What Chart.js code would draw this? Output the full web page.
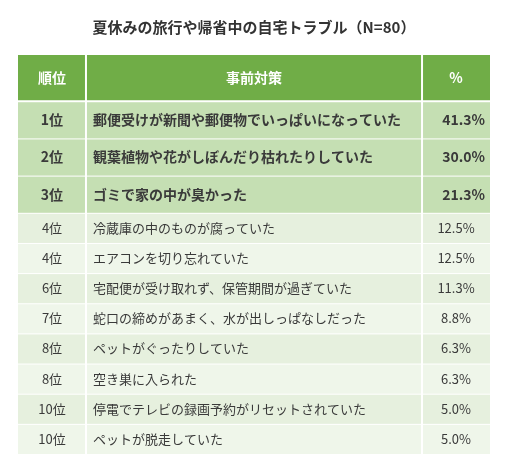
<!DOCTYPE html>
<html><head><meta charset="utf-8">
<script src="https://cdn.jsdelivr.net/npm/chart.js@4/dist/chart.umd.min.js"></script>
<style>html,body{margin:0;background:#fff}#w{width:508px;height:468px}</style></head>
<body><div id="w"><canvas id="c"></canvas></div>
<script>
const titleText = "夏休みの旅行や帰省中の自宅トラブル（N=80）";
const headers = ["順位", "事前対策", "%"];
const ranks = ["1位","2位","3位","4位","4位","6位","7位","8位","8位","10位","10位"];
const items = ["郵便受けが新聞や郵便物でいっぱいになっていた","観葉植物や花がしぼんだり枯れたりしていた","ゴミで家の中が臭かった","冷蔵庫の中のものが腐っていた","エアコンを切り忘れていた","宅配便が受け取れず、保管期間が過ぎていた","蛇口の締めがあまく、水が出しっぱなしだった","ペットがぐったりしていた","空き巣に入られた","停電でテレビの録画予約がリセットされていた","ペットが脱走していた"];
const percents = [41.3,30.0,21.3,12.5,12.5,11.3,8.8,6.3,6.3,5.0,5.0];

// layout (style)
const colEdges = [0, 14.4, 85.6, 100];
const headerH = 46, topH = 37, rowH = 30;
const F = '"Noto Sans CJK JP", sans-serif';

const rowsY = []; let acc = headerH;
ranks.forEach((r,i)=>{ const h = i<3?topH:rowH; rowsY.push([acc, acc+h]); acc += h; });
const total = acc;

const tablePlugin = {
  id:'table',
  beforeDatasetsDraw(chart){
    const {ctx, scales:{x,y}, chartArea:ca} = chart;
    ctx.save();
    ctx.fillStyle='#333'; ctx.font='bold 15px '+F; ctx.textAlign='center'; ctx.textBaseline='middle';
    ctx.fillText(titleText, (ca.left+ca.right)/2, ca.top-28);
    const cell=(c,y0,y1,fill)=>{
      const l=x.getPixelForValue(colEdges[c]), r=x.getPixelForValue(colEdges[c+1]);
      const t=y.getPixelForValue(y0), b=y.getPixelForValue(y1);
      ctx.fillStyle=fill; ctx.fillRect(l+(c?1:0), t+(y0?1:0), r-l-(c?1:0)-(c<2?1:0), b-t-1);
      return {l,r,t,b};
    };
    for(let c=0;c<3;c++){
      const b=cell(c,0,headerH,'#70ad47');
      ctx.fillStyle='#fff'; ctx.font='bold 14px '+F; ctx.textAlign='center';
      ctx.fillText(headers[c],(b.l+b.r)/2,(b.t+b.b)/2);
    }
    ranks.forEach((rk,i)=>{
      const [y0,y1]=rowsY[i];
      const fill = i<3 ? '#c5dfb3' : (i%2? '#e6f0de' : '#eff6ea');
      const top = i<3;
      const vals=[rk, items[i], percents[i].toFixed(1)+'%'];
      for(let c=0;c<3;c++){
        const b=cell(c,y0,y1,fill);
        ctx.fillStyle='#3a3a3a';
        ctx.font=(top?'bold 14px ':'13px ')+F;
        const cy=(b.t+b.b)/2;
        if(c===1){ctx.textAlign='left'; ctx.fillText(vals[c], b.l+7, cy);}
        else if(c===2&&top){ctx.textAlign='right'; ctx.fillText(vals[c], b.r-5, cy);}
        else {ctx.textAlign='center'; ctx.fillText(vals[c], (b.l+b.r)/2, cy);}
      }
    });
    ctx.restore();
  }
};

new Chart(document.getElementById('c'),{
  type:'scatter',
  data:{datasets:[{data: percents.map((p,i)=>({x:50,y:(rowsY[i][0]+rowsY[i][1])/2})), pointRadius:0}]},
  options:{
    responsive:true, maintainAspectRatio:false, animation:false,
    layout:{padding:{left:18,right:18,top:55,bottom:14}},
    plugins:{legend:{display:false},tooltip:{enabled:false}},
    scales:{
      x:{type:'linear',min:0,max:100,display:false},
      y:{type:'linear',min:0,max:total,reverse:true,display:false}
    }
  },
  plugins:[tablePlugin]
});
</script></body></html>
